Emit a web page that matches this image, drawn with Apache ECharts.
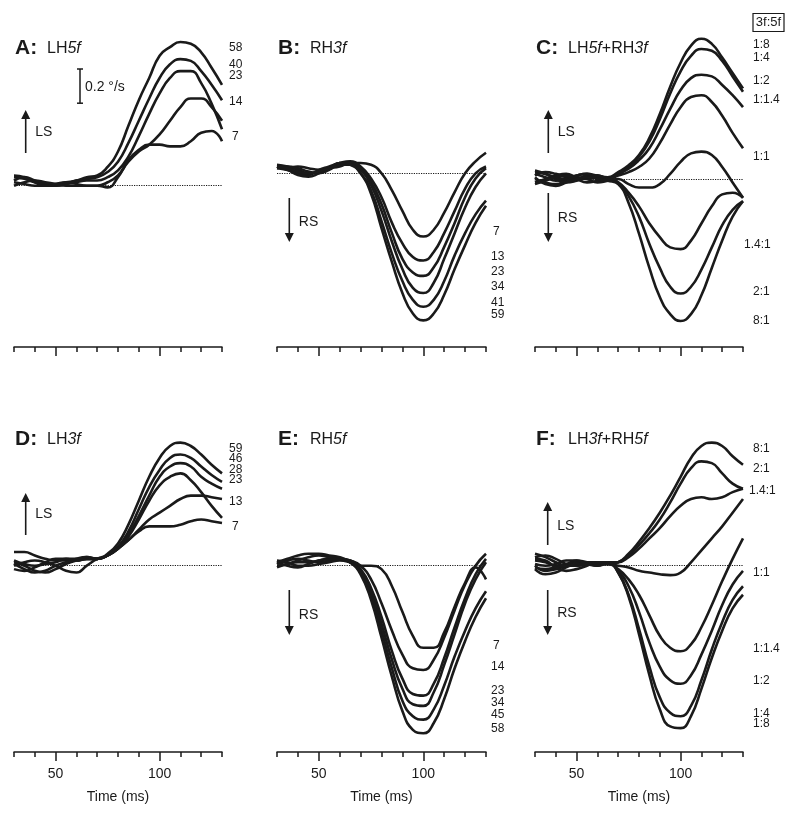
<!DOCTYPE html>
<html><head><meta charset="utf-8">
<script src="https://cdn.jsdelivr.net/npm/echarts@6/dist/echarts.min.js"></script>
<style>html,body{margin:0;padding:0;background:#fff}#c{width:800px;height:818px}</style>
</head><body><div id="c"></div>
<script>
// ---------- data (velocity in deg/s vs time in ms) ----------
const TIME = [30,35,40,45,50,55,60,65,70,75,80,85,90,95,100,105,110,115,120,125,130];
const X_LABELS = [50, 100];

// A: LH5f
const A_NAMES = ['58','40','23','14','7'];
const A_58 = [0.05,0.04,0.02,0.01,0.01,0.02,0.03,0.05,0.06,0.11,0.20,0.35,0.50,0.63,0.76,0.81,0.84,0.83,0.78,0.69,0.59];
const A_40 = [0.03,0.05,0.03,0.01,0.00,0.01,0.03,0.04,0.05,0.08,0.14,0.25,0.38,0.51,0.63,0.71,0.74,0.73,0.67,0.59,0.50];
const A_23 = [0.06,0.05,0.02,0.00,0.00,0.01,0.02,0.03,0.03,0.05,0.09,0.17,0.29,0.42,0.54,0.63,0.67,0.67,0.60,0.48,0.33];
const A_14 = [0.02,0.01,0.00,0.00,0.01,0.02,0.01,0.00,0.00,0.02,0.06,0.14,0.20,0.24,0.30,0.38,0.46,0.51,0.51,0.46,0.38];
const A_7  = [0.00,0.02,0.03,0.02,0.01,0.00,0.00,0.00,0.00,-0.01,0.05,0.15,0.21,0.24,0.24,0.23,0.23,0.26,0.31,0.32,0.26];

// B: RH3f
const B_NAMES = ['7','13','23','34','41','59'];
const B_7  = [0.04,0.03,0.04,0.03,0.02,0.03,0.04,0.06,0.06,0.05,0.00,-0.10,-0.22,-0.33,-0.37,-0.33,-0.23,-0.11,0.00,0.07,0.12];
const B_13 = [0.03,0.02,0.00,-0.01,0.02,0.04,0.06,0.07,0.04,-0.03,-0.14,-0.29,-0.41,-0.49,-0.51,-0.46,-0.35,-0.22,-0.09,0.00,0.04];
const B_23 = [0.04,0.02,-0.01,-0.02,0.00,0.03,0.06,0.06,0.03,-0.05,-0.18,-0.35,-0.50,-0.58,-0.60,-0.55,-0.43,-0.29,-0.14,-0.03,0.03];
const B_34 = [0.05,0.04,0.02,0.00,0.01,0.03,0.05,0.06,0.02,-0.07,-0.22,-0.40,-0.56,-0.67,-0.70,-0.64,-0.50,-0.35,-0.20,-0.08,0.00];
const B_41 = [0.03,0.04,0.03,0.01,0.00,0.02,0.05,0.05,0.00,-0.10,-0.28,-0.47,-0.63,-0.74,-0.78,-0.74,-0.63,-0.48,-0.35,-0.24,-0.16];
const B_59 = [0.04,0.03,0.01,0.00,0.01,0.03,0.06,0.05,0.00,-0.12,-0.32,-0.52,-0.70,-0.82,-0.86,-0.82,-0.71,-0.56,-0.42,-0.29,-0.19];

// C: LH5f+RH3f  (ratio 3f:5f)
const C_NAMES = ['1:8','1:4','1:2','1:1.4','1:1','1.4:1','2:1','8:1'];
const C_1_8   = [0.04,0.03,0.01,0.00,0.02,0.03,0.02,0.01,0.04,0.08,0.14,0.24,0.38,0.54,0.68,0.78,0.82,0.79,0.71,0.62,0.53];
const C_1_4   = [0.02,0.04,0.03,0.01,0.00,0.02,0.02,0.00,0.03,0.07,0.13,0.22,0.35,0.50,0.63,0.72,0.76,0.75,0.69,0.60,0.51];
const C_1_2   = [-0.02,0.00,0.02,0.03,0.01,0.00,0.01,0.01,0.03,0.06,0.11,0.18,0.29,0.41,0.52,0.59,0.61,0.60,0.55,0.49,0.42];
const C_1_14  = [0.03,0.01,-0.01,0.00,0.02,0.03,0.01,0.00,0.02,0.04,0.07,0.12,0.21,0.32,0.42,0.48,0.49,0.45,0.37,0.27,0.18];
const C_1_1   = [0.00,-0.02,-0.03,-0.01,0.01,0.00,-0.02,-0.01,0.00,-0.03,-0.05,-0.05,-0.03,0.03,0.10,0.15,0.16,0.14,0.07,-0.02,-0.11];
const C_14_1  = [0.05,0.03,0.00,-0.02,-0.01,0.01,0.02,0.00,-0.02,-0.08,-0.16,-0.26,-0.34,-0.40,-0.41,-0.36,-0.26,-0.16,-0.09,-0.08,-0.11];
const C_2_1   = [-0.03,-0.01,0.01,0.02,0.00,-0.02,-0.01,0.00,-0.02,-0.10,-0.22,-0.38,-0.52,-0.63,-0.67,-0.63,-0.53,-0.40,-0.27,-0.18,-0.13];
const C_8_1   = [0.01,-0.03,-0.04,-0.02,0.00,0.01,0.00,-0.01,-0.03,-0.14,-0.32,-0.52,-0.69,-0.79,-0.83,-0.79,-0.68,-0.52,-0.36,-0.22,-0.13];

// D: LH3f
const D_NAMES = ['59','46','28','23','13','7'];
const D_59 = [0.08,0.08,0.06,0.04,0.03,0.03,0.03,0.04,0.04,0.07,0.13,0.24,0.38,0.52,0.63,0.70,0.72,0.70,0.65,0.59,0.54];
const D_46 = [0.02,0.00,-0.03,-0.04,-0.02,0.01,0.03,0.04,0.04,0.06,0.11,0.20,0.33,0.46,0.56,0.63,0.65,0.63,0.58,0.53,0.49];
const D_28 = [0.00,0.02,0.03,0.02,0.00,-0.03,-0.04,0.00,0.04,0.06,0.10,0.18,0.29,0.41,0.52,0.58,0.60,0.58,0.52,0.48,0.45];
const D_23 = [0.01,-0.02,-0.04,-0.03,0.00,0.02,0.04,0.05,0.04,0.06,0.10,0.17,0.27,0.38,0.47,0.52,0.54,0.50,0.43,0.35,0.28];
const D_13 = [-0.02,-0.03,-0.01,0.02,0.04,0.04,0.03,0.04,0.04,0.06,0.10,0.15,0.21,0.27,0.31,0.35,0.39,0.41,0.41,0.40,0.39];
const D_7  = [0.03,0.01,0.00,0.01,0.02,0.04,0.04,0.05,0.04,0.06,0.10,0.15,0.20,0.23,0.23,0.23,0.24,0.26,0.27,0.26,0.25];

// E: RH5f
const E_NAMES = ['7','14','23','34','45','58'];
const E_7  = [0.03,0.02,0.00,0.00,0.01,0.02,0.03,0.02,0.00,0.00,-0.02,-0.12,-0.27,-0.41,-0.48,-0.48,-0.39,-0.24,-0.10,-0.01,-0.08];
const E_14 = [0.01,0.03,0.04,0.03,0.02,0.03,0.04,0.03,0.00,-0.08,-0.22,-0.38,-0.52,-0.60,-0.61,-0.55,-0.42,-0.26,-0.11,0.00,0.07];
const E_23 = [-0.01,0.01,0.02,0.02,0.03,0.04,0.04,0.03,-0.02,-0.13,-0.30,-0.50,-0.66,-0.75,-0.76,-0.69,-0.54,-0.36,-0.19,-0.05,0.04];
const E_34 = [0.02,0.00,-0.01,0.01,0.03,0.04,0.04,0.02,-0.03,-0.15,-0.34,-0.55,-0.72,-0.81,-0.82,-0.74,-0.58,-0.40,-0.22,-0.08,0.02];
const E_45 = [0.00,0.01,0.03,0.05,0.06,0.05,0.04,0.02,-0.04,-0.17,-0.38,-0.60,-0.79,-0.88,-0.90,-0.84,-0.70,-0.53,-0.38,-0.25,-0.15];
const E_58 = [0.02,0.04,0.06,0.07,0.07,0.06,0.05,0.02,-0.05,-0.20,-0.42,-0.65,-0.85,-0.96,-0.98,-0.92,-0.78,-0.60,-0.44,-0.30,-0.19];

// F: LH3f+RH5f
const F_NAMES = ['8:1','2:1','1.4:1','1:1','1:1.4','1:2','1:4','1:8'];
const F_8_1   = [0.07,0.05,0.02,0.00,0.01,0.02,0.02,0.01,0.02,0.07,0.14,0.22,0.31,0.41,0.52,0.63,0.70,0.72,0.70,0.64,0.59];
const F_2_1   = [0.05,0.06,0.04,0.01,0.00,0.01,0.02,0.01,0.02,0.06,0.12,0.19,0.27,0.37,0.48,0.57,0.61,0.60,0.54,0.48,0.45];
const F_14_1  = [0.00,-0.03,-0.02,0.00,0.02,0.02,0.01,0.02,0.02,0.05,0.10,0.16,0.22,0.29,0.35,0.39,0.40,0.39,0.40,0.43,0.45];
const F_1_1   = [-0.02,-0.05,-0.04,-0.01,0.01,0.01,0.00,0.01,0.00,-0.01,-0.03,-0.04,-0.05,-0.055,-0.04,0.02,0.09,0.16,0.23,0.31,0.39];
const F_1_14  = [0.03,0.02,0.00,0.01,0.03,0.02,0.01,0.01,-0.02,-0.08,-0.17,-0.29,-0.41,-0.48,-0.50,-0.46,-0.36,-0.23,-0.09,0.04,0.16];
const F_1_2   = [0.01,0.00,0.01,0.03,0.03,0.01,0.00,0.02,-0.03,-0.12,-0.27,-0.45,-0.59,-0.67,-0.69,-0.64,-0.52,-0.38,-0.23,-0.11,-0.03];
const F_1_4   = [-0.01,-0.02,-0.01,0.00,0.00,0.01,0.02,0.02,-0.04,-0.17,-0.37,-0.59,-0.77,-0.86,-0.88,-0.82,-0.67,-0.49,-0.33,-0.20,-0.12];
const F_1_8   = [0.04,0.03,-0.01,-0.03,-0.02,0.00,0.02,0.02,-0.04,-0.18,-0.40,-0.64,-0.84,-0.94,-0.95,-0.88,-0.72,-0.54,-0.38,-0.25,-0.17];

// ---------- layout & style ----------
const FONT = '"Liberation Sans", Arial, Helvetica, sans-serif';
const INK = '#1a1a1a';
const S = 171; // pixels per deg/s (scale bar 0.2 deg/s ~ 34 px)

const PANELS = [
  {letter:'A:', title:'{n|LH}{i|5f}', names:A_NAMES, curves:[A_58,A_40,A_23,A_14,A_7],
   left:14, width:208, top:12, axisY:347, zeroY:185.7, bottom:false,
   labelPos:[[229,47.7],[229,64.5],[229,75.5],[229,102],[232,136.5]]},
  {letter:'B:', title:'{n|RH}{i|3f}', names:B_NAMES, curves:[B_7,B_13,B_23,B_34,B_41,B_59],
   left:277, width:209, top:12, axisY:347, zeroY:173.3, bottom:false,
   labelPos:[[493,231.7],[491,256.7],[491,271.7],[491,286.7],[491,302.7],[491,315]]},
  {letter:'C:', title:'{n|LH}{i|5f}{n|+RH}{i|3f}', names:C_NAMES, curves:[C_1_8,C_1_4,C_1_2,C_1_14,C_1_1,C_14_1,C_2_1,C_8_1],
   left:535, width:208, top:12, axisY:347, zeroY:179, bottom:false,
   labelPos:[[753,44.3],[753,57.3],[753,80.7],[753,100],[753,156.7],[744,245],[753,292],[753,321]]},
  {letter:'D:', title:'{n|LH}{i|3f}', names:D_NAMES, curves:[D_59,D_46,D_28,D_23,D_13,D_7],
   left:14, width:208, top:395, axisY:752, zeroY:565.7, bottom:true,
   labelPos:[[229,448.3],[229,459],[229,469.3],[229,480],[229,501.7],[232,526.7]]},
  {letter:'E:', title:'{n|RH}{i|5f}', names:E_NAMES, curves:[E_7,E_14,E_23,E_34,E_45,E_58],
   left:277, width:209, top:395, axisY:752, zeroY:565.7, bottom:true,
   labelPos:[[493,646],[491,666.7],[491,690.7],[491,702.3],[491,715],[491,728.3]]},
  {letter:'F:', title:'{n|LH}{i|3f}{n|+RH}{i|5f}', names:F_NAMES, curves:[F_8_1,F_2_1,F_14_1,F_1_1,F_1_14,F_1_2,F_1_4,F_1_8],
   left:535, width:208, top:395, axisY:752, zeroY:565.7, bottom:true,
   labelPos:[[753,448.3],[753,468.3],[749,491],[753,572.3],[753,648.3],[753,680.7],[753,713.3],[753,724]]}
];
const TITLE_Y = [48.5, 48.5, 48.5, 439, 439, 439];

// arrows: [x, yStart, yTip, text, textY]
const ARROWS = [
  [25.7,153,110,'LS',131.7],
  [289.3,198,242,'RS',221.7],
  [548.3,153,110,'LS',131.7],
  [548.3,193,242,'RS',218],
  [25.7,535,493,'LS',514],
  [289.3,590,635,'RS',615],
  [547.7,545,502,'LS',526],
  [547.7,590,635,'RS',613]
];

const grids = [], xAxes = [], yAxes = [], series = [], graphics = [];

PANELS.forEach((p, i) => {
  grids.push({left:p.left, top:p.top, width:p.width, height:p.axisY - p.top, containLabel:false});
  xAxes.push({
    gridIndex:i, type:'value', min:30, max:130, interval:10, position:'bottom',
    axisLine:{show:true, onZero:false, lineStyle:{color:INK, width:1.5}},
    axisTick:{show:true, length:5, lineStyle:{color:INK, width:1.5}},
    axisLabel:{show:p.bottom, margin:15, fontSize:14, color:INK, fontFamily:FONT,
      formatter:v => X_LABELS.indexOf(v) >= 0 ? String(v) : ''},
    splitLine:{show:false},
    name:p.bottom ? 'Time (ms)' : '', nameLocation:'middle', nameGap:38,
    nameTextStyle:{fontSize:14, color:INK, fontFamily:FONT}
  });
  xAxes.push({
    gridIndex:i, type:'value', min:30, max:130, position:'bottom',
    axisLine:{show:false, onZero:false}, axisLabel:{show:false}, splitLine:{show:false},
    axisTick:{show:true, length:9, customValues:X_LABELS, lineStyle:{color:INK, width:1.5}}
  });
  yAxes.push({
    gridIndex:i, type:'value', show:false,
    min:-(p.axisY - p.zeroY) / S, max:(p.zeroY - p.top) / S
  });
  p.curves.forEach((c, k) => {
    const s = {
      type:'line', name:p.letter + p.names[k], xAxisIndex:2*i, yAxisIndex:i,
      data:TIME.map((t, j) => [t, c[j]]), smooth:0.5, symbol:'none', showSymbol:false,
      lineStyle:{color:INK, width:2.6}, silent:true, clip:false, z:3
    };
    if (k === 0) {
      s.markLine = {silent:true, symbol:'none', label:{show:false}, animation:false,
        lineStyle:{type:'dotted', color:INK, width:1.2}, data:[{yAxis:0}], z:2};
    }
    series.push(s);
  });
  // titles
  graphics.push({type:'text', x:p.left + 1, y:TITLE_Y[i],
    style:{text:p.letter, font:'bold 21px ' + FONT, fill:INK, textVerticalAlign:'middle'}});
  graphics.push({type:'text', x:p.left + 33, y:TITLE_Y[i] + 0.5,
    style:{text:p.title, fill:INK, textVerticalAlign:'middle',
      rich:{n:{fontSize:16, fontFamily:FONT, fill:INK}, i:{fontSize:16, fontFamily:FONT, fontStyle:'italic', fill:INK}}}});
  // curve labels
  p.names.forEach((n, k) => {
    graphics.push({type:'text', x:p.labelPos[k][0], y:p.labelPos[k][1],
      style:{text:n, font:'12px ' + FONT, fill:INK, textVerticalAlign:'middle'}});
  });
});

ARROWS.forEach(a => {
  const [x, y0, y1, txt, ty] = a;
  const dir = y1 < y0 ? -1 : 1;
  const headH = 9, headW = 4.5;
  graphics.push({type:'line', shape:{x1:x, y1:y0, x2:x, y2:y1 - dir*headH}, style:{stroke:INK, lineWidth:1.6}});
  graphics.push({type:'polygon', shape:{points:[[x, y1],[x - headW, y1 - dir*headH],[x + headW, y1 - dir*headH]]}, style:{fill:INK}});
  graphics.push({type:'text', x:x + 9.5, y:ty, style:{text:txt, font:'14px ' + FONT, fill:INK, textVerticalAlign:'middle'}});
});

// scale bar 0.2 deg/s
const SB_X = 80, SB_TOP = 69;
graphics.push({type:'line', shape:{x1:SB_X, y1:SB_TOP, x2:SB_X, y2:SB_TOP + 0.2*S}, style:{stroke:INK, lineWidth:1.5}});
graphics.push({type:'line', shape:{x1:SB_X-3, y1:SB_TOP, x2:SB_X+3, y2:SB_TOP}, style:{stroke:INK, lineWidth:1.5}});
graphics.push({type:'line', shape:{x1:SB_X-3, y1:SB_TOP + 0.2*S, x2:SB_X+3, y2:SB_TOP + 0.2*S}, style:{stroke:INK, lineWidth:1.5}});
graphics.push({type:'text', x:SB_X + 5, y:SB_TOP + 0.1*S + 1, style:{text:'0.2 °/s', font:'14px ' + FONT, fill:INK, textVerticalAlign:'middle'}});

// ratio box
graphics.push({type:'rect', shape:{x:753, y:13.5, width:31, height:18}, style:{fill:'#fff', stroke:INK, lineWidth:1.2}});
graphics.push({type:'text', x:768.5, y:22.8, style:{text:'3f:5f', font:'13px ' + FONT, fill:INK, textAlign:'center', textVerticalAlign:'middle'}});

const chart = echarts.init(document.getElementById('c'), null, {renderer:'canvas'});
chart.setOption({
  animation:false, backgroundColor:'#fff',
  grid:grids, xAxis:xAxes, yAxis:yAxes, series:series, graphic:graphics
});
</script></body></html>
